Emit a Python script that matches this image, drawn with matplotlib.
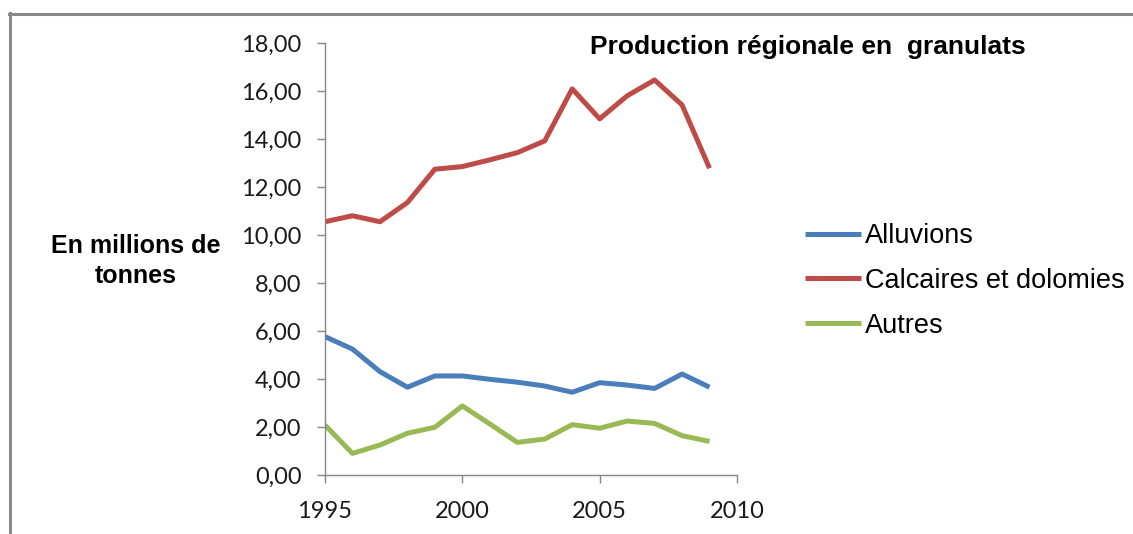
import numpy as np
import matplotlib.pyplot as plt
from matplotlib.lines import Line2D
from matplotlib.ticker import FuncFormatter

years = list(range(1995, 2010))
alluvions = [5.77, 5.25, 4.31, 3.66, 4.13, 4.13, 3.99, 3.87, 3.71, 3.45, 3.85, 3.75, 3.61, 4.21, 3.66]
calcaires = [10.56, 10.81, 10.56, 11.36, 12.75, 12.86, 13.14, 13.44, 13.93, 16.10, 14.85, 15.81, 16.47, 15.43, 12.79]
autres = [2.08, 0.90, 1.25, 1.74, 1.99, 2.88, 2.13, 1.36, 1.50, 2.10, 1.95, 2.25, 2.15, 1.64, 1.40]

series = [
    ("Alluvions", alluvions, "#4A7EBB"),
    ("Calcaires et dolomies", calcaires, "#BE4B48"),
    ("Autres", autres, "#98B954"),
]

W, H = 1133, 534
fig = plt.figure(figsize=(W / 100, H / 100), dpi=100)
ax = fig.add_axes([325 / W, 1 - 475 / H, (737 - 325) / W, (475 - 43.3) / H])

for name, vals, col in series:
    ax.plot(years, vals, color=col, linewidth=3.6, label=name, solid_capstyle="butt")

ax.set_xlim(1995, 2010)
ax.set_ylim(0, 18)
ax.set_xticks([1995, 2000, 2005, 2010])
ax.set_yticks(np.arange(0, 19, 2))
ax.yaxis.set_major_formatter(FuncFormatter(lambda v, p: f"{v:.2f}".replace(".", ",")))

for side in ["top", "right"]:
    ax.spines[side].set_visible(False)
for side in ["left", "bottom"]:
    ax.spines[side].set_color("#868686")
    ax.spines[side].set_linewidth(1.0)
ax.tick_params(direction="out", length=6, width=1.0, color="#868686",
               labelcolor="#1a1a1a", labelsize=17, labelfontfamily="Lato")
ax.tick_params(axis="y", pad=11)
ax.tick_params(axis="x", pad=13)

fig.text(590 / W, 1 - 47 / H, "Production régionale en  granulats",
         fontsize=19, fontweight="bold", family="Liberation Sans",
         ha="left", va="center")
fig.text(136 / W, 1 - 261 / H, "En millions de\ntonnes",
         fontsize=18, fontweight="bold", family="Liberation Sans",
         ha="center", va="center", linespacing=1.35)

fig.legend(loc="upper left", bbox_to_anchor=(805 / W, 1 - 223 / H),
           frameon=False, borderpad=0, borderaxespad=0,
           prop={"family": "Liberation Sans", "size": 19.5},
           handlelength=2.05, handletextpad=0.15, labelspacing=0.7)

# chart area border (top and left edges visible)
fig.add_artist(Line2D([8.5 / W, 1132 / W], [1 - 13.5 / H, 1 - 13.5 / H],
                      transform=fig.transFigure, color="#8A8A8A", linewidth=2.2))
fig.add_artist(Line2D([9.5 / W, 9.5 / W], [0, 1 - 12.5 / H],
                      transform=fig.transFigure, color="#8A8A8A", linewidth=2.2))

fig.savefig("out.png", dpi=100)
